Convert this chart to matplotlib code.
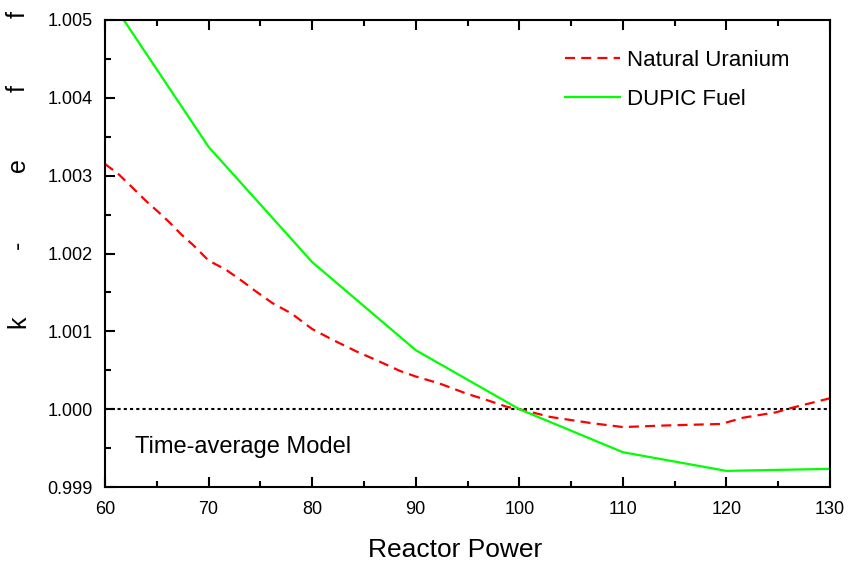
import matplotlib
matplotlib.use("Agg")
import matplotlib.pyplot as plt
from matplotlib.ticker import MultipleLocator, FormatStrFormatter

plt.rcParams['font.family'] = ['Liberation Sans', 'DejaVu Sans']

# Data
nu_power = [60, 61.3, 62.7, 64, 65.1, 66.3, 67.4, 68.5, 70, 71.7, 73.3, 74.6, 76.2, 78,
            80, 82, 84.3, 86.2, 88.5, 90, 92.3, 94.9, 96.8, 98.8, 100, 103, 107, 110,
            114, 119.5, 121.6, 124.8, 126.1, 130]
nu_keff = [1.00315, 1.00302, 1.00284, 1.00267, 1.00254, 1.00239, 1.00224, 1.00211, 1.00191,
           1.00179, 1.00164, 1.00151, 1.00136, 1.00123, 1.00103, 1.00089, 1.00074, 1.00063,
           1.00049, 1.00042, 1.00033, 1.00020, 1.00012, 1.00003, 1.00000, 0.99990, 0.99982,
           0.99977, 0.99979, 0.99981, 0.99989, 0.99996, 1.00001, 1.00014]
dupic_power = [60, 70, 80, 90, 100, 110, 120, 130]
dupic_keff = [1.00536, 1.00337, 1.00189, 1.000758, 1.0000, 0.999447, 0.999207, 0.999233]
ref_level = 1.000
ylabel_chars = ['k', '-', 'e', 'f', 'f']

fig = plt.figure(figsize=(8.51, 5.73), dpi=100)
ax = fig.add_axes([105/851, 1-487/573, 725/851, 467/573])

ax.axhline(ref_level, color='black', lw=1.5, linestyle=(0, (1.5, 1.5)))
ax.plot(nu_power, nu_keff, color='#ff0000', lw=1.6, linestyle=(0, (4.5, 2.8)),
        label='Natural Uranium')
ax.plot(dupic_power, dupic_keff, color='#00ff00', lw=1.6, label='DUPIC Fuel')

ax.set_xlim(60, 130)
ax.set_ylim(0.999, 1.005)
ax.xaxis.set_major_locator(MultipleLocator(10))
ax.xaxis.set_minor_locator(MultipleLocator(5))
ax.yaxis.set_major_locator(MultipleLocator(0.001))
ax.yaxis.set_minor_locator(MultipleLocator(0.0005))
ax.yaxis.set_major_formatter(FormatStrFormatter('%.3f'))
ax.tick_params(which='both', direction='in', top=True, right=False, width=1.5)
ax.tick_params(which='major', length=7, labelsize=13)
ax.tick_params(axis='y', which='major', pad=9)
ax.tick_params(axis='x', which='major', pad=10)
ax.tick_params(which='minor', length=4)
for s in ax.spines.values():
    s.set_linewidth(1.5)

ax.set_xlabel('Reactor Power', fontsize=19)
ax.xaxis.set_label_coords((455 - 105) / 725, -(538 - 487) / 467)

leg = ax.legend(loc='upper left', bbox_to_anchor=(0.634, 0.936), frameon=False,
                fontsize=16, handlelength=2.5, handletextpad=0.3, labelspacing=0.8,
                borderpad=0, borderaxespad=0)

ax.text(0.041, 0.0857, 'Time-average Model', transform=ax.transAxes, fontsize=17,
        ha='left', va='center')

ypix = [322, 245, 165, 88, 15]
for ch, yp in zip(ylabel_chars, ypix):
    fig.text(18/851, 1 - yp/573, ch, rotation=90, fontsize=18, ha='center', va='center')

fig.savefig('out.png', dpi=100)
